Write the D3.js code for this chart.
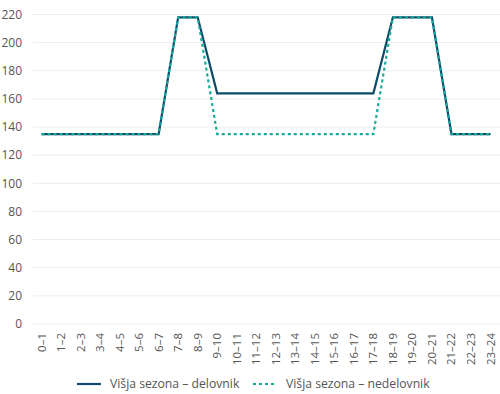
<!DOCTYPE html>
<html>
<head>
<meta charset="utf-8">
<script src="https://cdn.jsdelivr.net/npm/d3@7"></script>
<style>
  body { margin: 0; background: #fff; }
  text { font-family: "Open Sans", Lato, sans-serif; fill: #555; }
</style>
</head>
<body>
<div id="chart"></div>
<script>
// hour slots
const hours = ["0–1","1–2","2–3","3–4","4–5","5–6","6–7","7–8","8–9","9–10","10–11","11–12",
  "12–13","13–14","14–15","15–16","16–17","17–18","18–19","19–20","20–21","21–22","22–23","23–24"];
const delovnik = [135,135,135,135,135,135,135,218,218,164,164,164,164,164,164,164,164,164,218,218,218,135,135,135];
const nedelovnik = [135,135,135,135,135,135,135,218,218,135,135,135,135,135,135,135,135,135,218,218,218,135,135,135];
const yTicks = [0,20,40,60,80,100,120,140,160,180,200,220];
const seriesNames = ["Višja sezona – delovnik","Višja sezona – nedelovnik"];

const width = 500, height = 394;
const plotLeft = 33, plotRight = 500, plotTop = 14.5, plotBottom = 324;

const svg = d3.select("#chart").append("svg")
    .attr("width", width)
    .attr("height", height);

const x = d3.scalePoint().domain(hours).range([41.5, 490.5]);
const y = d3.scaleLinear().domain([0, 220]).range([plotBottom, plotTop]);

// grid
svg.append("g").selectAll("line")
    .data(yTicks)
    .join("line")
    .attr("x1", plotLeft).attr("x2", plotRight)
    .attr("y1", d => y(d)).attr("y2", d => y(d))
    .attr("stroke", "#ececec")
    .attr("stroke-width", 1);

// y labels
svg.append("g").selectAll("text")
    .data(yTicks)
    .join("text")
    .attr("x", 22)
    .attr("y", d => y(d))
    .attr("dy", "0.35em")
    .attr("text-anchor", "end")
    .style("font-size", "12px")
    .text(d => d);

// x labels, rotated
svg.append("g").selectAll("text")
    .data(hours)
    .join("text")
    .attr("transform", d => "translate(" + x(d) + "," + (plotBottom + 9) + ") rotate(-90)")
    .attr("dy", "0.35em")
    .attr("text-anchor", "end")
    .style("font-size", "11.5px")
    .text(d => d);

const line = d3.line()
    .x((d, i) => x(hours[i]))
    .y(d => y(d));

svg.append("path")
    .datum(delovnik)
    .attr("d", line)
    .attr("fill", "none")
    .attr("stroke", "#0d4c68")
    .attr("stroke-width", 2.2);

svg.append("path")
    .datum(nedelovnik)
    .attr("d", line)
    .attr("fill", "none")
    .attr("stroke", "#16aa9b")
    .attr("stroke-width", 2.2)
    .attr("stroke-dasharray", "3,3");

// legend
const legend = svg.append("g").attr("transform", "translate(0,384)");
const legendItems = [
  {name: seriesNames[0], color: "#0d4c68", dash: null, x: 77},
  {name: seriesNames[1], color: "#16aa9b", dash: "3,3", x: 253}
];
const li = legend.selectAll("g")
    .data(legendItems)
    .join("g")
    .attr("transform", d => "translate(" + d.x + ",0)");
li.append("line")
    .attr("x1", 0).attr("x2", 24)
    .attr("stroke", d => d.color)
    .attr("stroke-width", 2.2)
    .attr("stroke-dasharray", d => d.dash);
li.append("text")
    .attr("x", 33)
    .attr("dy", "0.35em")
    .style("font-size", "12.2px")
    .text(d => d.name);
</script>
</body>
</html>
